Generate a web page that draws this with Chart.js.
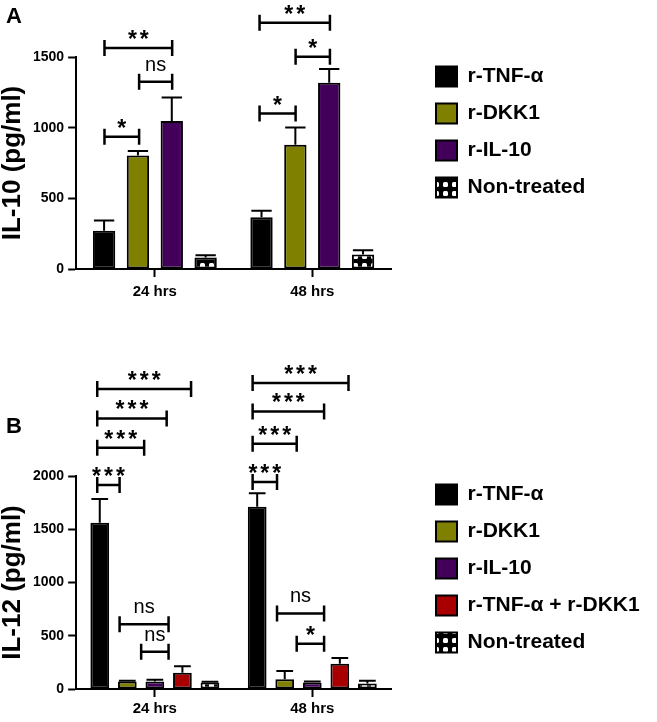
<!DOCTYPE html>
<html>
<head>
<meta charset="utf-8">
<script src="https://cdn.jsdelivr.net/npm/chart.js@4.4.1/dist/chart.umd.min.js"></script>
<style>
  html, body { margin: 0; padding: 0; background: #fff; }
  #wrap { position: relative; width: 657px; height: 722px; }
  canvas { position: absolute; left: 0; }
  #il10 { top: 0; }
  #il12 { top: 330px; }
</style>
</head>
<body>
<div id="wrap">
  <canvas id="il10" width="657" height="330"></canvas>
  <canvas id="il12" width="657" height="392"></canvas>
</div>
<script>
const timepoints = ['24 hrs', '48 hrs'];

// panel A - IL-10 (pg/ml), mean and upper SD
const a_tnf = [270, 366],   a_tnfErr = [73, 46];
const a_dkk1 = [803, 880],  a_dkk1Err = [32, 122];
const a_il10 = [1047, 1317], a_il10Err = [167, 98];
const a_none = [82, 103],   a_noneErr = [15, 30];

// panel B - IL-12 (pg/ml)
const b_tnf = [1562, 1712], b_tnfErr = [221, 126];
const b_dkk1 = [70, 92],    b_dkk1Err = [8, 76];
const b_il10 = [70, 61],    b_il10Err = [16, 9];
const b_combo = [153, 236], b_comboErr = [61, 55];
const b_none = [61, 52],    b_noneErr = [6, 25];

const yMaxA = 1500, yMaxB = 2000, yStep = 500;

// significance brackets: [from, to] in category units, height in pg/ml, label
const sigA = [
  [-0.32, -0.10, 936, '*'],
  [-0.10, 0.11, 1324, 'ns'],
  [-0.32, 0.11, 1564, '**'],
  [0.665, 0.894, 1100, '*'],
  [0.894, 1.112, 1502, '*'],
  [0.665, 1.112, 1742, '**'],
];
const sigB = [
  [-0.366, -0.224, 1915, '***'],
  [-0.366, -0.068, 2265, '***'],
  [-0.366, 0.075, 2541, '***'],
  [-0.366, 0.230, 2818, '***'],
  [-0.224, 0.087, 608, 'ns'],
  [-0.087, 0.087, 350, 'ns'],
  [0.621, 0.776, 1943, '***'],
  [0.621, 0.901, 2302, '***'],
  [0.621, 1.075, 2606, '***'],
  [0.621, 1.230, 2873, '***'],
  [0.776, 1.075, 709, 'ns'],
  [0.901, 1.075, 424, '*'],
];

const FONT = '"Liberation Sans", Arial, sans-serif';
Chart.defaults.font.family = FONT;
Chart.defaults.color = '#000';

const OLIVE = '#808000', PURPLE = '#43005a', RED = '#a80000';
const LEGEND_SIZE = 21;

function checker(ctx) {
  const c = document.createElement('canvas');
  c.width = 9; c.height = 9;
  const g = c.getContext('2d');
  g.fillStyle = '#000'; g.fillRect(0, 0, 9, 9);
  g.fillStyle = '#fff';
  g.beginPath(); g.roundRect(2, 2, 5, 5, 1.5); g.fill();
  return ctx.createPattern(c, 'repeat');
}

function bars(label, data, err, color) {
  return { label, data, err, backgroundColor: color, borderColor: '#000', borderWidth: 2, borderSkipped: false };
}

// legend box should start at x=436 whatever the label width
function rightPad(labels) {
  const ctx = document.createElement('canvas').getContext('2d');
  ctx.font = 'bold ' + LEGEND_SIZE + 'px ' + FONT;
  const w = Math.max(...labels.map(t => ctx.measureText(t).width));
  return Math.max(0, 657 - 419 - (17 + 21 + LEGEND_SIZE / 2 + w + 10));
}

const errorBars = {
  id: 'errorBars',
  afterDatasetsDraw(chart) {
    const { ctx, scales: { y } } = chart;
    ctx.save();
    ctx.strokeStyle = '#000';
    ctx.lineWidth = 2;
    chart.data.datasets.forEach((ds, i) => {
      chart.getDatasetMeta(i).data.forEach((bar, j) => {
        const top = y.getPixelForValue(ds.data[j] + ds.err[j]);
        const half = bar.width / 2 - 1;
        ctx.beginPath();
        ctx.moveTo(bar.x, bar.y);
        ctx.lineTo(bar.x, top);
        ctx.moveTo(bar.x - half, top);
        ctx.lineTo(bar.x + half, top);
        ctx.stroke();
      });
    });
    ctx.restore();
  }
};

const sig = {
  id: 'sig',
  afterDraw(chart, args, opts) {
    const { ctx, scales: { x, y } } = chart;
    ctx.save();
    ctx.strokeStyle = '#000';
    ctx.fillStyle = '#000';
    ctx.lineWidth = 2.5;
    opts.brackets.forEach(([a, b, v, label]) => {
      const x1 = x.getPixelForValue(a), x2 = x.getPixelForValue(b), yy = y.getPixelForValue(v);
      ctx.beginPath();
      ctx.moveTo(x1, yy); ctx.lineTo(x2, yy);
      ctx.moveTo(x1, yy - 8); ctx.lineTo(x1, yy + 8);
      ctx.moveTo(x2, yy - 8); ctx.lineTo(x2, yy + 8);
      ctx.stroke();
      ctx.textAlign = 'center';
      ctx.textBaseline = 'alphabetic';
      const mid = (x1 + x2) / 2;
      if (label === 'ns') {
        ctx.font = '20px ' + FONT;
        ctx.fillText(label, mid, yy - 11);
      } else {
        ctx.font = 'bold 23px ' + FONT;
        ctx.letterSpacing = '3px';
        ctx.fillText(label, mid + 1.5, yy - 1);
        ctx.letterSpacing = '0px';
      }
    });
    ctx.font = 'bold 22px ' + FONT;
    ctx.textAlign = 'left';
    ctx.textBaseline = 'alphabetic';
    ctx.fillText(opts.letter, 6, opts.letterY);
    ctx.restore();
  }
};

function makeChart(id, datasets, yMax, yTitle, o) {
  const labels = datasets.map(d => d.label);
  return new Chart(document.getElementById(id), {
    type: 'bar',
    data: { labels: timepoints, datasets },
    plugins: [errorBars, sig],
    options: {
      responsive: false,
      animation: false,
      events: [],
      layout: { padding: { top: 0, left: 0, right: rightPad(labels), bottom: o.bottom } },
      datasets: { bar: { categoryPercentage: o.catPct, barPercentage: o.barPct } },
      scales: {
        x: {
          offset: true,
          grid: { offset: false, drawOnChartArea: false, tickLength: 8, tickWidth: 2, tickColor: '#000' },
          border: { color: '#000', width: 2 },
          ticks: { padding: o.xPad, font: { size: 15, weight: 'bold', lineHeight: 1 } }
        },
        y: {
          min: 0, max: yMax,
          ticks: { stepSize: yStep, padding: 4, font: { size: 14, weight: 'bold' }, callback: v => String(v) },
          grid: { drawOnChartArea: false, tickLength: 8, tickWidth: 2, tickColor: '#000' },
          border: { color: '#000', width: 2 },
          title: { display: true, text: yTitle, font: { size: 26, weight: 'bold', lineHeight: 1 }, padding: { top: 0, bottom: 3 } }
        },
        yR: {
          position: 'right',
          grid: { display: false },
          border: { display: false },
          ticks: { display: false },
          afterFit(s) { s.width = 29; }
        }
      },
      plugins: {
        tooltip: { enabled: false },
        title: { display: true, text: '', font: { size: 1, lineHeight: 1 }, padding: { top: 0, bottom: o.chartTop - 1 } },
        legend: {
          position: 'right',
          align: 'start',
          maxWidth: 400,
          title: { display: true, text: '', font: { size: 1, lineHeight: 1 }, padding: { top: 0, bottom: o.legendTop - 1 } },
          labels: { boxWidth: 21, boxHeight: 20, padding: 16, color: '#000', font: { size: LEGEND_SIZE, weight: 'bold' } }
        },
        sig: { brackets: o.brackets, letter: o.letter, letterY: o.letterY }
      }
    }
  });
}

const ctxA = document.getElementById('il10').getContext('2d');
makeChart('il10', [
  bars('r-TNF-α', a_tnf, a_tnfErr, '#000'),
  bars('r-DKK1', a_dkk1, a_dkk1Err, OLIVE),
  bars('r-IL-10', a_il10, a_il10Err, PURPLE),
  bars('Non-treated', a_none, a_noneErr, checker(ctxA)),
], yMaxA, 'IL-10 (pg/ml)', {
  bottom: 24, xPad: 7, catPct: 0.86, barPct: 0.66, chartTop: 57, legendTop: 50,
  brackets: sigA, letter: 'A', letterY: 23
});

const ctxB = document.getElementById('il12').getContext('2d');
makeChart('il12', [
  bars('r-TNF-α', b_tnf, b_tnfErr, '#000'),
  bars('r-DKK1', b_dkk1, b_dkk1Err, OLIVE),
  bars('r-IL-10', b_il10, b_il10Err, PURPLE),
  bars('r-TNF-α + r-DKK1', b_combo, b_comboErr, RED),
  bars('Non-treated', b_none, b_noneErr, checker(ctxB)),
], yMaxB, 'IL-12 (pg/ml)', {
  bottom: 2, xPad: 4, catPct: 0.875, barPct: 0.68, chartTop: 146, legendTop: 138,
  brackets: sigB, letter: 'B', letterY: 103
});
</script>
</body>
</html>
